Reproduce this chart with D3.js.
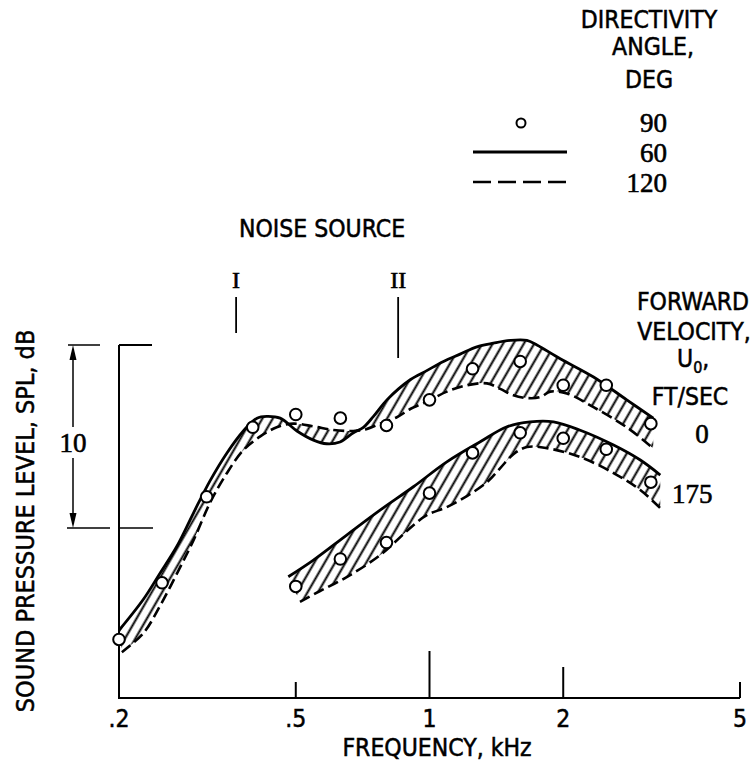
<!DOCTYPE html>
<html>
<head>
<meta charset="utf-8">
<script src="https://cdnjs.cloudflare.com/ajax/libs/d3/7.8.5/d3.min.js"></script>
<style>
  body { margin: 0; background: #fff; }
  .lbl { font-family: "Liberation Sans Narrow", "DejaVu Sans Condensed", sans-serif; font-size: 24.5px; fill: #000; stroke: #000; stroke-width: 0.5px; }
  .num { font-family: "Liberation Serif", "DejaVu Serif", serif; fill: #000; stroke: #000; stroke-width: 0.6px; }
</style>
</head>
<body>
<svg width="753" height="767"></svg>
<script>
// frequency axis (kHz)
var freqTicks = [0.2, 0.5, 1, 2, 5];
var freqTickLabels = [".2", ".5", "1", "2", "5"];

// 90 deg measured points, relative SPL in dB
var freq0 = [0.2, 0.25, 0.315, 0.4, 0.5, 0.63, 0.8, 1.0, 1.25, 1.6, 2.0, 2.5, 3.15];
var spl90_0 = [3.2, 6.3, 11.0, 14.8, 15.5, 15.3, 14.9, 16.3, 18.0, 18.4, 17.1, 17.1, 15.0];
var freq175 = [0.5, 0.63, 0.8, 1.0, 1.25, 1.6, 2.0, 2.5, 3.15];
var spl90_175 = [6.1, 7.6, 8.5, 11.2, 13.4, 14.5, 14.2, 13.6, 11.8];

// 60 deg (solid) and 120 deg (dashed) curves, [kHz, dB]
var solid60_0 = [[0.2,3.7],[0.227,5.4],[0.247,6.8],[0.27,8.3],[0.294,10.1],[0.321,11.9],[0.35,13.4],[0.381,14.6],[0.409,15.3],[0.43,15.4],[0.461,15.3],[0.503,14.6],[0.548,14.1],[0.587,13.9],[0.629,14.0],[0.674,14.5],[0.71,14.8],[0.748,15.4],[0.802,16.3],[0.905,17.4],[0.986,17.9],[1.075,18.4],[1.172,18.8],[1.278,19.2],[1.393,19.4],[1.519,19.55],[1.657,19.55],[1.745,19.3],[1.969,18.55],[2.34,17.55],[2.78,16.3],[3.19,15.3]];
var dashed120_0 = [[0.203,2.5],[0.227,3.55],[0.247,5.0],[0.27,6.8],[0.294,8.6],[0.321,10.7],[0.35,12.3],[0.381,13.55],[0.416,14.3],[0.453,14.8],[0.494,15.0],[0.548,14.85],[0.608,14.65],[0.674,14.6],[0.72,14.7],[0.774,15.0],[0.844,15.35],[0.905,15.8],[0.986,16.2],[1.094,16.75],[1.214,17.1],[1.347,17.2],[1.443,16.9],[1.545,16.55],[1.657,16.4],[1.775,16.45],[1.87,16.75],[2.038,16.65],[2.34,15.9],[2.78,14.8],[3.19,13.65]];
var solid60_175 = [[0.481,6.63],[0.548,7.54],[0.651,8.91],[0.774,10.27],[0.92,11.55],[1.094,12.91],[1.301,14.01],[1.494,14.83],[1.685,15.1],[1.902,15.1],[2.184,14.64],[2.596,13.83],[2.982,13.01],[3.308,12.19]];
var dashed120_175 = [[0.511,5.26],[0.567,5.85],[0.651,6.61],[0.774,7.81],[0.92,9.45],[0.986,10.0],[1.094,10.44],[1.214,11.04],[1.347,11.8],[1.443,12.57],[1.545,13.33],[1.657,13.72],[1.838,13.66],[2.184,13.17],[2.596,12.3],[2.982,11.37],[3.308,10.38]];

// noise source frequencies (kHz)
var noiseFreqs = [0.367, 0.85];
var noiseLabels = ["I", "II"];

var legendAngles = ["90", "60", "120"];
var velocities = ["0", "175"];

var svg = d3.select("svg");

var x = d3.scaleLog().domain([0.2, 5]).range([119, 740]);
var y = d3.scaleLinear().domain([0, 19.3]).range([698, 345]);

var defs = svg.append("defs");
var pat = defs.append("pattern")
    .attr("id", "hatch")
    .attr("patternUnits", "userSpaceOnUse")
    .attr("width", 9).attr("height", 9)
    .attr("patternTransform", "rotate(30)");
pat.append("line")
    .attr("x1", 4.5).attr("y1", -1).attr("x2", 4.5).attr("y2", 10)
    .attr("stroke", "#000").attr("stroke-width", 2);

var line = d3.line()
    .x(function(d) { return x(d[0]); })
    .y(function(d) { return y(d[1]); })
    .curve(d3.curveCatmullRom.alpha(0.5));

function bandPath(a, b) {
    return line(a) + "L" + line(b.slice().reverse()).slice(1) + "Z";
}

// hatched bands
[[solid60_0, dashed120_0], [solid60_175, dashed120_175]].forEach(function(p) {
    svg.append("path")
        .attr("d", bandPath(p[0], p[1]))
        .attr("fill", "url(#hatch)")
        .attr("stroke", "none");
    svg.append("path")
        .attr("d", line(p[0]))
        .attr("fill", "none").attr("stroke", "#000").attr("stroke-width", 2.8);
    svg.append("path")
        .attr("d", line(p[1]))
        .attr("fill", "none").attr("stroke", "#000").attr("stroke-width", 2.6)
        .attr("stroke-dasharray", "11,5");
});

// axes
var axis = svg.append("g").attr("stroke", "#000").attr("stroke-width", 2).attr("fill", "none");
axis.append("path").attr("d", "M" + x(0.2) + "," + y(19.3) + "V" + y(0) + "H" + x(5));
var tickLen = {0.5: 16, 1: 47, 2: 31, 5: 16};
freqTicks.forEach(function(f) {
    if (!tickLen[f]) return;
    axis.append("line")
        .attr("x1", x(f)).attr("x2", x(f))
        .attr("y1", y(0)).attr("y2", y(0) - tickLen[f]);
});
svg.selectAll(".xtl")
    .data(freqTicks)
    .enter().append("text")
    .attr("class", "lbl xtl")
    .attr("x", function(d) { return x(d); })
    .attr("y", 727)
    .attr("text-anchor", "middle")
    .text(function(d, i) { return freqTickLabels[i]; });

svg.append("text")
    .attr("class", "lbl")
    .attr("x", 437).attr("y", 756)
    .attr("text-anchor", "middle")
    .text("FREQUENCY, kHz");

svg.append("text")
    .attr("class", "lbl")
    .attr("transform", "translate(34,521) rotate(-90)")
    .attr("text-anchor", "middle")
    .style("font-size", "25px")
    .text("SOUND PRESSURE LEVEL, SPL, dB");

// 10 dB scale marker
var yTop = y(19.3), yBot = y(9.3);
axis.append("line").attr("x1", x(0.2)).attr("x2", 152).attr("y1", yTop).attr("y2", yTop);
axis.append("line").attr("x1", x(0.2)).attr("x2", 153).attr("y1", yBot).attr("y2", yBot).attr("stroke-width", 1.5);
axis.append("line").attr("x1", 68).attr("x2", 100).attr("y1", yTop).attr("y2", yTop).attr("stroke-width", 1.5);
axis.append("line").attr("x1", 67).attr("x2", 110).attr("y1", yBot).attr("y2", yBot).attr("stroke-width", 1.5);
axis.append("line").attr("x1", 73).attr("x2", 73).attr("y1", yTop + 10).attr("y2", 427).attr("stroke-width", 1.5);
axis.append("line").attr("x1", 73).attr("x2", 73).attr("y1", 458).attr("y2", yBot - 10).attr("stroke-width", 1.5);
svg.append("path").attr("d", "M73," + yTop + "L69.5," + (yTop + 15) + "L76.5," + (yTop + 15) + "Z").attr("fill", "#000");
svg.append("path").attr("d", "M73," + yBot + "L69.5," + (yBot - 15) + "L76.5," + (yBot - 15) + "Z").attr("fill", "#000");
svg.append("text").attr("class", "num")
    .attr("x", 73).attr("y", 452)
    .attr("text-anchor", "middle")
    .style("font-size", "27px")
    .text("10");

// noise sources
svg.append("text").attr("class", "lbl")
    .attr("x", 322).attr("y", 237)
    .attr("text-anchor", "middle")
    .text("NOISE SOURCE");
var noiseLen = [36, 61];
noiseFreqs.forEach(function(f, i) {
    svg.append("text").attr("class", "num")
        .attr("x", x(f)).attr("y", 288)
        .attr("text-anchor", "middle")
        .style("font-size", "24px")
        .text(noiseLabels[i]);
    svg.append("line")
        .attr("x1", x(f)).attr("x2", x(f))
        .attr("y1", 297).attr("y2", 297 + noiseLen[i])
        .attr("stroke", "#000").attr("stroke-width", 1.8);
});

// measured points (90 deg)
function drawPoints(fs, vs) {
    svg.append("g").selectAll("circle")
        .data(fs)
        .enter().append("circle")
        .attr("cx", function(d) { return x(d); })
        .attr("cy", function(d, i) { return y(vs[i]); })
        .attr("r", 5.8)
        .attr("fill", "#fff")
        .attr("stroke", "#000")
        .attr("stroke-width", 2);
}
drawPoints(freq0, spl90_0);
drawPoints(freq175, spl90_175);

// velocity labels
svg.append("text").attr("class", "lbl").attr("x", 693).attr("y", 310).attr("text-anchor", "middle").text("FORWARD");
svg.append("text").attr("class", "lbl").attr("x", 694).attr("y", 340).attr("text-anchor", "middle").text("VELOCITY,");
var u = svg.append("text").attr("class", "lbl").attr("x", 677).attr("y", 367);
u.append("tspan").text("U");
u.append("tspan").attr("dy", 6).style("font-size", "16px").text("0");
u.append("tspan").attr("dy", -6).text(",");
svg.append("text").attr("class", "lbl").attr("x", 690).attr("y", 405).attr("text-anchor", "middle").text("FT/SEC");
svg.append("text").attr("class", "num").attr("x", 702).attr("y", 443).attr("text-anchor", "middle").style("font-size", "27px").text(velocities[0]);
svg.append("text").attr("class", "num").attr("x", 672).attr("y", 503).style("font-size", "27px").text(velocities[1]);

// legend
svg.append("text").attr("class", "lbl").attr("x", 649).attr("y", 28).attr("text-anchor", "middle").text("DIRECTIVITY");
svg.append("text").attr("class", "lbl").attr("x", 653).attr("y", 55).attr("text-anchor", "middle").text("ANGLE,");
svg.append("text").attr("class", "lbl").attr("x", 649).attr("y", 88).attr("text-anchor", "middle").text("DEG");
svg.append("circle").attr("cx", 521).attr("cy", 123).attr("r", 4.5).attr("fill", "#fff").attr("stroke", "#000").attr("stroke-width", 2);
svg.append("line").attr("x1", 473).attr("x2", 567).attr("y1", 152).attr("y2", 152).attr("stroke", "#000").attr("stroke-width", 2.8);
svg.append("line").attr("x1", 473).attr("x2", 568).attr("y1", 182).attr("y2", 182).attr("stroke", "#000").attr("stroke-width", 2.6).attr("stroke-dasharray", "18,7");
var legY = [132, 162, 192];
legendAngles.forEach(function(a, i) {
    svg.append("text").attr("class", "num")
        .attr("x", 667).attr("y", legY[i])
        .attr("text-anchor", "end")
        .style("font-size", "27px")
        .text(a);
});
</script>
</body>
</html>
